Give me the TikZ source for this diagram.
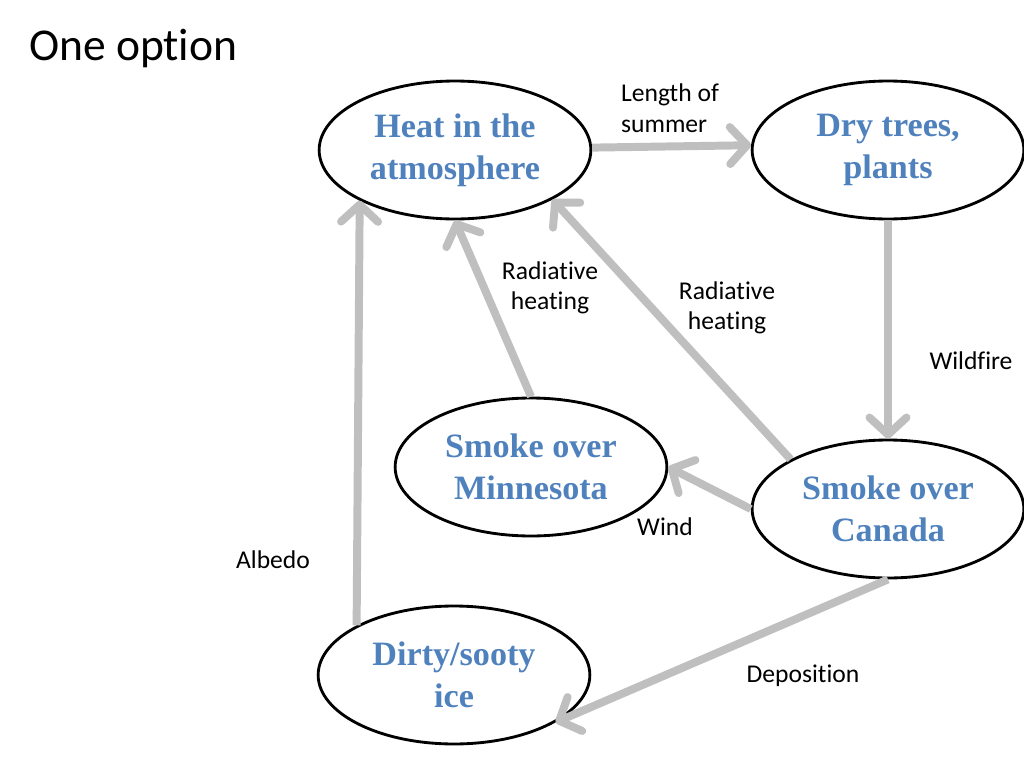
\documentclass[tikz,border=0pt]{standalone}
\usepackage{fontspec}
\setmainfont{Liberation Serif}
\newfontfamily\labelfont[Ligatures={NoCommon}]{Carlito}
\usepackage{tikz}
\usetikzlibrary{
  arrows.meta,      % Straight Barb 箭头
  shapes.geometric, % 椭圆节点
  positioning       % 节点相对定位
}
\definecolor{nodeblue}{HTML}{4F81BD}
\definecolor{linkgray}{HTML}{BFBFBF}
\tikzset{
  state/.style={
    ellipse,
    draw=black,
    line width=2pt,
    minimum width=191pt,
    minimum height=97pt,
    align=center,
    font=\fontsize{24}{29.5}\selectfont\bfseries,
    text=nodeblue
  },
  link/.style={
    -{Straight Barb[length=12pt,width=26pt,round]},
    line width=5.6pt,
    color=linkgray
  },
  note/.style={
    font=\labelfont\fontsize{18}{21.5}\selectfont,
    align=center
  }
}

\begin{document}
\begin{tikzpicture}[x=0.703pt, y=-0.703pt]
    % 画布（像素坐标，1024 x 768）
    \useasboundingbox (0,0) rectangle (1024,768);

    % 标题
    \node[anchor=west, font=\labelfont\fontsize{32}{38}\selectfont] (title) at (24,49) {One option};

    % 五个椭圆节点
    \node[state] (heat)    at (455,150) {Heat in the\\atmosphere};
    \node[state] (dry)     at (888,150) {Dry trees,\\plants};
    \node[state] (minn)    at (531,467) {Smoke over\\Minnesota};
    \node[state] (canada)  at (888,509) {Smoke over\\Canada};
    \node[state] (ice)     at (454,675) {Dirty/sooty\\ice};

    % 灰色箭头
    \draw[link] (heat.1) -- (dry.178);
    \draw[link] (dry.south) -- (canada.north);
    \draw[link] (canada.180) -- (minn.0);
    \draw[link] (minn.north) -- (heat.south);
    \draw[link] (canada.153) -- (heat.333);
    \draw[link] (ice.153) -- (heat.208);
    \draw[link] (canada.south) -- (ice.335);

    % 箭头旁的文字
    \node[note, align=left] (lensum) at (670,108) {Length of\\summer};
    \node[note] (radmin)  at (550,288) {Radiative\\heating};
    \node[note] (radcan)  at (727,308) {Radiative\\heating};
    \node[note] (fire)    at (971,361) {Wildfire};
    \node[note] (wind)    at (665,527) {Wind};
    \node[note] (albedo)  at (273,560) {Albedo};
    \node[note] (depo)    at (803,676) {Deposition};

  \end{tikzpicture}
\end{document}
